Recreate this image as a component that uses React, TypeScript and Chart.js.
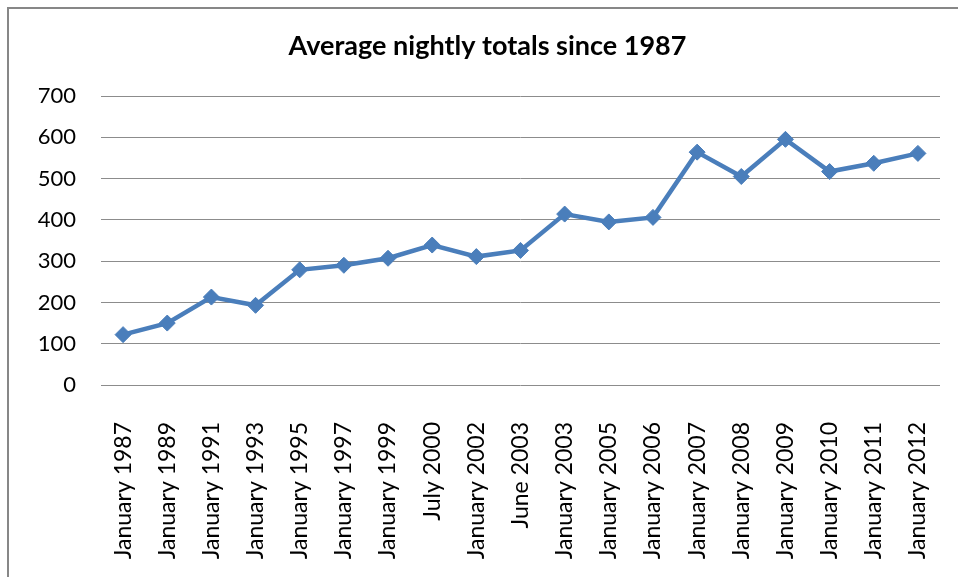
import React, { useEffect, useRef } from "react";
import { Chart, registerables } from "chart.js";

Chart.register(...registerables);

const categories = [
  "January 1987",
  "January 1989",
  "January 1991",
  "January 1993",
  "January 1995",
  "January 1997",
  "January 1999",
  "July 2000",
  "January 2002",
  "June 2003",
  "January 2003",
  "January 2005",
  "January 2006",
  "January 2007",
  "January 2008",
  "January 2009",
  "January 2010",
  "January 2011",
  "January 2012",
];

const nightlyTotals = [122, 150, 213, 193, 279, 290, 307, 339, 311, 326, 414, 395, 406, 564, 505, 595, 517, 537, 561];

const yTicks = [0, 100, 200, 300, 400, 500, 600, 700];

const titleText = "Average nightly totals since 1987";

const FONT = "Lato, 'Open Sans', sans-serif";

const framePlugin = {
  id: "frame",
  beforeDraw(chart: any) {
    const ctx = chart.ctx;
    ctx.save();
    ctx.fillStyle = "#ffffff";
    ctx.fillRect(0, 0, chart.width, chart.height);
    ctx.strokeStyle = "#878787";
    ctx.lineWidth = 2;
    ctx.strokeRect(8, 8, chart.width + 20, chart.height + 20);
    ctx.restore();
  },
};

export default function App() {
  const ref = useRef<HTMLCanvasElement | null>(null);

  useEffect(() => {
    if (!ref.current) return;
    const chart = new Chart(ref.current, {
      type: "line",
      data: {
        labels: categories,
        datasets: [
          {
            data: nightlyTotals,
            borderColor: "#4a7ebb",
            backgroundColor: "#4a7ebb",
            borderWidth: 4.5,
            pointStyle: "rectRot",
            pointRadius: 8,
            pointBorderWidth: 1,
            pointBackgroundColor: "#4a7ebb",
            pointBorderColor: "#4a7ebb",
            tension: 0,
          },
        ],
      },
      options: {
        responsive: false,
        animation: false,
        layout: { padding: { top: 0, left: 35, right: 18, bottom: 0 } },
        plugins: {
          legend: { display: false },
          tooltip: { enabled: false },
          title: {
            display: true,
            text: titleText,
            color: "#000000",
            font: { family: FONT, size: 27, weight: "bold", lineHeight: 1.2 },
            padding: { top: 30, bottom: 33.6 },
          },
        },
        scales: {
          x: {
            type: "category",
            offset: true,
            grid: { display: false, drawTicks: false },
            border: { display: false },
            ticks: {
              color: "#000000",
              font: { family: FONT, size: 23 },
              minRotation: 90,
              maxRotation: 90,
              autoSkip: false,
              padding: 37,
            },
            afterFit(scale: any) {
              scale.height = 192;
              scale.paddingLeft = 0;
              scale.paddingRight = 0;
            },
          },
          y: {
            type: "linear",
            min: 0,
            max: 700,
            afterBuildTicks(scale: any) {
              scale.ticks = yTicks.map((v) => ({ value: v }));
            },
            grid: { color: "#8c8c8c", lineWidth: 1, drawTicks: false },
            border: { display: false },
            ticks: {
              color: "#000000",
              font: { family: FONT, size: 22 },
              padding: 25,
            },
            afterFit(scale: any) {
              scale.width = 66;
            },
          },
        },
      },
      plugins: [framePlugin],
    });
    return () => chart.destroy();
  }, []);

  return (
    <div style={{ position: "fixed", left: 0, top: 0, width: 958, height: 577, background: "#fff" }}>
      <canvas ref={ref} width={958} height={577} style={{ display: "block" }} />
    </div>
  );
}
